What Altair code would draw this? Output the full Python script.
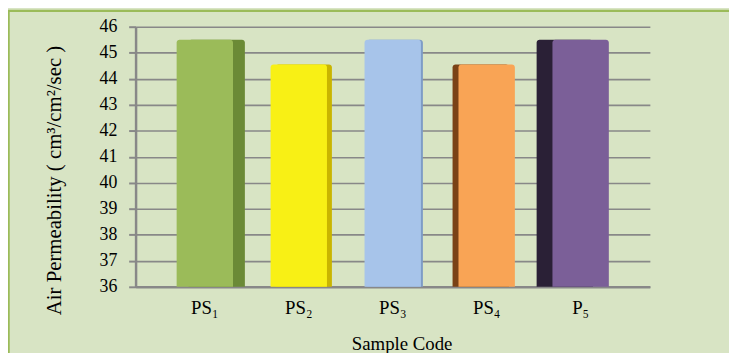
import altair as alt
import pandas as pd

# ---- data ----
categories = ["PS₁", "PS₂", "PS₃", "PS₄", "P₅"]
values = [45.5, 44.55, 45.5, 44.55, 45.5]
y_ticks = [36, 37, 38, 39, 40, 41, 42, 43, 44, 45, 46]

# ---- styling ----
front_colors = ["#9bbb59", "#f8f015", "#a7c4ea", "#f9a455", "#7b5f98"]
side_colors = ["#6b8a36", "#c9b500", "#7e9cc6", "#7a4216", "#2a2036"]
side_offsets = [12, 5, 2, -6, -16]
FONT = "Liberation Serif"
GRID = "#888888"
BG = "#d8e4c4"
W, H = 520, 263
PAD = {"left": 129, "top": 17, "right": 80, "bottom": 65}

df = pd.DataFrame({"code": categories, "value": values})

x_enc = alt.X(
    "code:N",
    sort=categories,
    scale=alt.Scale(paddingInner=0.4, paddingOuter=0.437),
    axis=alt.Axis(
        title="Sample Code",
        labelAngle=0,
        labelFont=FONT,
        labelFontSize=19,
        labelColor="black",
        labelPadding=12,
        ticks=False,
        domainColor=GRID,
        domainWidth=2.5,
        titleFont=FONT,
        titleFontSize=19,
        titleFontWeight="normal",
        titleColor="black",
        titleX=269,
        titleY=63,
        titleBaseline="alphabetic",
    ),
)
y_scale = alt.Scale(domain=[36, 46], zero=False, nice=False)
y_enc = alt.Y(
    "value:Q",
    scale=y_scale,
    axis=alt.Axis(
        title="Air Permeability ( cm³/cm²/sec )",
        values=y_ticks,
        labelFont=FONT,
        labelFontSize=18,
        labelColor="black",
        labelPadding=12,
        tickSize=7,
        tickColor=GRID,
        tickWidth=2,
        domainColor=GRID,
        domainWidth=2.5,
        grid=True,
        gridColor=GRID,
        gridWidth=1.6,
        titleFont=FONT,
        titleFontSize=21,
        titleFontWeight="normal",
        titleColor="black",
        titleAngle=270,
        titleAlign="center",
        titleBaseline="middle",
        titleX=-82,
        titleY=155,
    ),
)

# chart frame
frame = alt.Chart(alt.Data(values=[{"a": 1}])).mark_rect(
    filled=False, stroke="#9bbb59", strokeWidth=2.5
).encode(
    x=alt.value(-128.5),
    x2=alt.value(W + PAD["right"] + 10),
    y=alt.value(-16),
    y2=alt.value(H + PAD["bottom"] + 10),
)

# side faces (pseudo 3D)
sides = []
for cat, col, off in zip(categories, side_colors, side_offsets):
    sides.append(
        alt.Chart(df)
        .transform_filter(alt.datum.code == cat)
        .mark_bar(color=col, xOffset=off, cornerRadiusTopLeft=3, cornerRadiusTopRight=3)
        .encode(x=x_enc, y=y_enc, y2=alt.datum(36))
    )

front = (
    alt.Chart(df)
    .mark_bar(cornerRadiusTopLeft=3, cornerRadiusTopRight=3)
    .encode(
        x=x_enc,
        y=y_enc,
        y2=alt.datum(36),
        color=alt.Color(
            "code:N",
            sort=categories,
            scale=alt.Scale(domain=categories, range=front_colors),
            legend=None,
        ),
    )
)

chart = (
    alt.layer(*sides, front, frame)
    .properties(
        width=W,
        height=H,
        autosize=alt.AutoSizeParams(type="none"),
        padding=PAD,
        background=BG,
    )
    .configure_view(stroke=None)
)

chart.save("out.html", embed_options={"renderer": "svg", "actions": False})
